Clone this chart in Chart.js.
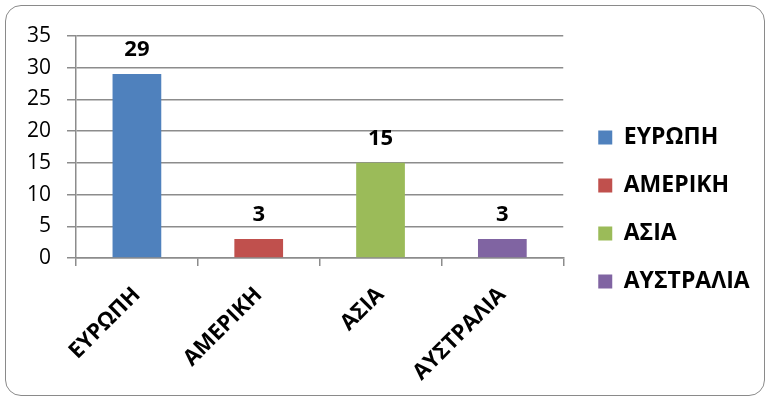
<!DOCTYPE html>
<html>
<head>
<meta charset="utf-8">
<script src="https://cdn.jsdelivr.net/npm/chart.js@4.4.1/dist/chart.umd.min.js"></script>
<style>
  html, body { margin: 0; padding: 0; background: #fff; }
  #wrap { position: relative; width: 770px; height: 403px; }
  #frame { position: absolute; left: 5px; top: 5px; width: 760px; height: 391px;
           border: 1.5px solid #8a8a8a; border-radius: 16px; pointer-events: none; box-sizing: border-box; }
  canvas { position: absolute; left: 0; top: 0; }
</style>
</head>
<body>
<div id="wrap">
  <canvas id="c" width="770" height="403"></canvas>
  <div id="frame"></div>
</div>
<script>
const categories = ['ΕΥΡΩΠΗ', 'ΑΜΕΡΙΚΗ', 'ΑΣΙΑ', 'ΑΥΣΤΡΑΛΙΑ'];
const values = [29, 3, 15, 3];
const colors = ['#4F81BD', '#C0504D', '#9BBB59', '#8064A2'];
const yTicks = [0, 5, 10, 15, 20, 25, 30, 35];

const FONT = "'Open Sans', 'Noto Sans', sans-serif";
const GRID = '#8c8c8c';

const valueLabels = {
  id: 'valueLabels',
  afterDatasetsDraw(chart) {
    const ctx = chart.ctx;
    const meta = chart.getDatasetMeta(0);
    ctx.save();
    ctx.font = "bold 22px " + FONT;
    ctx.fillStyle = '#000';
    ctx.textAlign = 'center';
    ctx.textBaseline = 'alphabetic';
    meta.data.forEach((el, i) => {
      ctx.fillText(String(chart.data.datasets[0].data[i]), el.x, el.y - 18);
    });
    ctx.restore();
  }
};

const legendNudge = {
  id: 'legendNudge',
  afterLayout(chart) {
    if (chart.legend) { chart.legend.left += 10; chart.legend.right += 10; }
  }
};

new Chart(document.getElementById('c'), {
  type: 'bar',
  data: {
    labels: categories,
    datasets: [{
      data: values,
      backgroundColor: colors,
      borderWidth: 0,
      barPercentage: 0.4,
      categoryPercentage: 1.0
    }]
  },
  options: {
    responsive: false,
    animation: false,
    layout: { autoPadding: false, padding: { left: 24, top: 36, right: 27, bottom: 20 } },
    plugins: {
      tooltip: { enabled: false },
      legend: {
        position: 'right',
        labels: {
          font: { family: FONT, size: 23, weight: 'bold' },
          color: '#000',
          boxWidth: 14,
          boxHeight: 14,
          padding: 25,
          generateLabels(chart) {
            return categories.map((c, i) => ({
              text: c,
              fillStyle: colors[i],
              strokeStyle: colors[i],
              lineWidth: 0,
              hidden: false,
              index: i,
              fontColor: '#000'
            }));
          }
        },
        onClick() {}
      }
    },
    scales: {
      x: {
        afterFit(axis) { axis.height = 403 - 20 - 258; },
        grid: { drawOnChartArea: false, drawTicks: true, tickLength: 8, color: GRID, lineWidth: 1.5, offset: true },
        border: { color: GRID, width: 1.5 },
        ticks: {
          font: { family: FONT, size: 22, weight: 'bold' },
          color: '#000',
          maxRotation: 45,
          minRotation: 45,
          padding: 16
        }
      },
      y: {
        min: 0,
        max: 35,
        afterBuildTicks(axis) { axis.ticks = yTicks.map(v => ({ value: v })); },
        afterFit(axis) { axis.width = 52; },
        grid: { color: GRID, lineWidth: 1.5, tickLength: 9 },
        border: { color: GRID, width: 1.5 },
        ticks: {
          font: { family: FONT, size: 21 },
          color: '#000',
          padding: 16
        }
      }
    }
  },
  plugins: [valueLabels, legendNudge]
});
</script>
</body>
</html>
